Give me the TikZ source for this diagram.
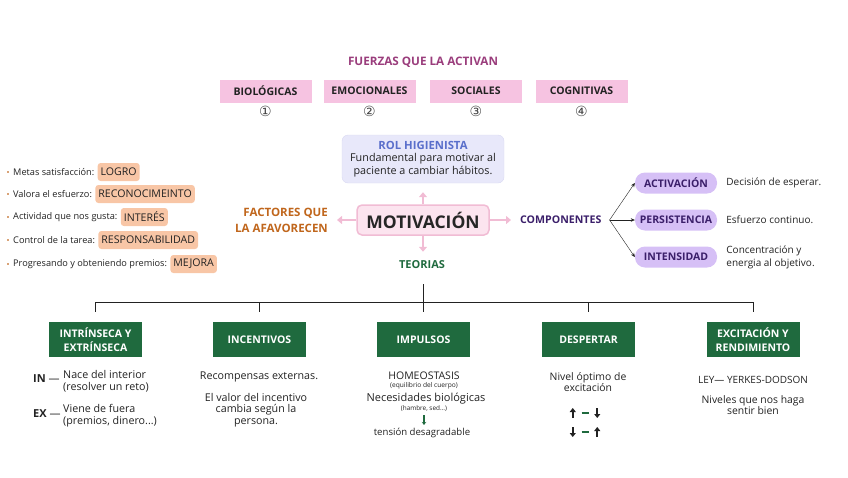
\documentclass[tikz,border=0pt]{standalone}
\usepackage{fontspec}
\setmainfont{Open Sans}
\newfontfamily\simbolos{DejaVu Sans}
\usetikzlibrary{arrows.meta,positioning}
\definecolor{fuerzatxt}{HTML}{9A3D7C}
\definecolor{rosa}{HTML}{F6C3E1}
\definecolor{lila}{HTML}{E8E8FA}
\definecolor{lilaborde}{HTML}{D9D9F2}
\definecolor{azulrol}{HTML}{5A6FCB}
\definecolor{rosamot}{HTML}{FCE4EF}
\definecolor{bordemot}{HTML}{F1BCD4}
\definecolor{naranja}{HTML}{C0661C}
\definecolor{melocoton}{HTML}{F8C6A6}
\definecolor{verde}{HTML}{1F6A3E}
\definecolor{morado}{HTML}{3B1F6A}
\definecolor{lavanda}{HTML}{D6C0F6}
\definecolor{texto}{HTML}{222222}
\definecolor{gris}{HTML}{444444}
\newcommand{\sube}{\tikz[baseline=-0.6ex]\draw[texto, line width=1.6pt, -{Triangle[length=4pt,width=6pt]}] (0,-5pt) -- (0,5pt);}
\newcommand{\baja}{\tikz[baseline=-0.6ex]\draw[texto, line width=1.6pt, -{Triangle[length=4pt,width=6pt]}] (0,5pt) -- (0,-5pt);}
\newcommand{\guion}{\tikz[baseline=-0.6ex]\draw[verde, line width=1.5pt] (0,0) -- (7pt,0);}
\begin{document}
\begin{tikzpicture}[x=1pt, y=-1pt, every node/.style={inner sep=0pt, text=texto},
    fuerza/.style={fill=rosa, minimum width=92pt, minimum height=23pt, font=\bfseries\fontsize{10.5}{12}\selectfont},
    factor/.style={fill=melocoton, rounded corners=3pt, inner xsep=3pt, minimum height=18pt, font=\fontsize{10.6}{12}\selectfont},
    item/.style={anchor=west, font=\fontsize{9.2}{11}\selectfont},
    componente/.style={fill=lavanda, rounded corners=10pt, minimum width=82pt, minimum height=21pt, text=morado, font=\bfseries\fontsize{10.5}{12}\selectfont},
    teoria/.style={fill=verde, text=white, minimum width=93pt, minimum height=35pt, align=center, font=\bfseries\fontsize{10.5}{14}\selectfont},
    cuerpo/.style={align=center, font=\fontsize{10.7}{11.5}\selectfont},
    flechamot/.style={draw=bordemot, line width=2.5pt, shorten >=9pt, -{Triangle[length=5pt,width=8pt]}}]
  \useasboundingbox (0,0) rectangle (848,477);

  % Fuerzas
  \node[text=fuerzatxt, font=\bfseries\fontsize{11.7}{13}\selectfont] (fuerzas) at (423,62) {FUERZAS QUE LA ACTIVAN};
  \foreach \x/\n/\t/\s in {265.5/bio/BIOLÓGICAS/①, 369.5/emo/EMOCIONALES/②, 476/soc/SOCIALES/③, 581.5/cog/COGNITIVAS/④} {
    \node[fuerza] (\n) at (\x,91) {\t};
    \node[font=\simbolos\fontsize{14}{14}\selectfont, text=gris, below=3pt of \n] (\n-num) {\s};
  }

  % Centro
  \node[fill=lila, draw=lilaborde, rounded corners=6pt, minimum width=162pt, minimum height=48pt, align=center, font=\fontsize{10.8}{12.5}\selectfont] (rol) at (423,159) {{\color{azulrol}\bfseries\fontsize{11.3}{12.5}\selectfont ROL HIGIENISTA}\\Fundamental para motivar al\\paciente a cambiar hábitos.};
  \node[fill=rosamot, draw=bordemot, line width=1.5pt, rounded corners=5pt, minimum width=132pt, minimum height=30pt, font=\bfseries\fontsize{17.5}{20}\selectfont, text=black!85] (mot) at (423,220) {MOTIVACIÓN};
  \node[text=naranja, font=\bfseries\fontsize{11.5}{16}\selectfont, align=right, anchor=east] (factores) at (328,220) {FACTORES QUE\\LA AFAVORECEN};
  \node[text=verde, font=\bfseries\fontsize{11}{12}\selectfont] (teorias) at (422,265) {TEORIAS};
  \node[text=morado, font=\bfseries\fontsize{10.6}{12}\selectfont, anchor=west] (componentes) at (520,220) {COMPONENTES};
  \draw[flechamot] (mot.north) -- (rol.south);
  \draw[flechamot] (mot.south) -- (mot.south |- teorias.north);
  \draw[flechamot] (mot.west) -- (factores.east);
  \draw[flechamot] (mot.east) -- (componentes.west);

  % Factores
  \foreach \y/\t/\f/\n in {172/Metas satisfacción:/LOGRO/f1, 194/Valora el esfuerzo:/RECONOCIMEINTO/f2, 217/Actividad que nos gusta:/INTERÉS/f3, 240/Control de la tarea:/RESPONSABILIDAD/f4, 264/Progresando y obteniendo premios:/MEJORA/f5} {
    \fill[naranja!60] (6.5,\y-1.3) rectangle ++(2.6,2.6);
    \node[item] (\n-txt) at (13,\y) {\t};
    \node[factor, right=3pt of \n-txt] (\n) {\f};
  }

  % Componentes
  \coordinate[right=8pt of componentes] (rama);
  \foreach \y/\n/\t/\d in {183/act/ACTIVACIÓN/Decisión de esperar., 220/per/PERSISTENCIA/Esfuerzo continuo., 257/int/INTENSIDAD/{Concentración y\\energia al objetivo.}} {
    \node[componente] (\n) at (676,\y) {\t};
    \draw[texto, -{Stealth[length=4pt,width=3.5pt]}] (rama) -- (\n.west);
    \node[align=left, font=\fontsize{10}{13}\selectfont, right=9pt of \n] (\n-d) {\d};
  }

  % Teorias
  \foreach \x/\n/\t in {95.5/t1/{INTRÍNSECA Y\\EXTRÍNSECA}, 259.5/t2/INCENTIVOS, 423.5/t3/IMPULSOS, 588.5/t4/DESPERTAR, 753/t5/{EXCITACIÓN Y\\RENDIMIENTO}}
    \node[teoria] (\n) at (\x,339.5) {\t};
  \draw[texto, line width=0.9pt] ([yshift=10pt]t1.north) -- ++(0,-9) -| ([yshift=10pt]t5.north);
  \foreach \n in {t2,t4} \draw[texto, line width=0.9pt] ([yshift=10pt]\n.north) -- ++(0,-9);
  \draw[texto, line width=0.9pt] ([yshift=10pt]t3.north) -- ++(0,-28);

  \node[anchor=west, font=\fontsize{11}{12}\selectfont] (in) at (33,379) {\textbf{IN} —};
  \node[anchor=west, align=left, font=\fontsize{10.7}{12}\selectfont] (in-d) at (63,381) {Nace del interior\\(resolver un reto)};
  \node[anchor=west, font=\fontsize{11}{12}\selectfont] (ex) at (33,414) {\textbf{EX} —};
  \node[anchor=west, align=left, font=\fontsize{10.7}{12}\selectfont] (ex-d) at (63,416) {Viene de fuera\\(premios, dinero...)};

  \node[cuerpo] (t2-a) at (259,377) {Recompensas externas.};
  \node[cuerpo] (t2-b) at (256,410) {El valor del incentivo\\cambia según la\\persona.};

  \node[font=\fontsize{10.5}{12}\selectfont] (homeo) at (424,376) {HOMEOSTASIS};
  \node[font=\fontsize{6.6}{7}\selectfont] (equil) at (424,385.5) {(equilibrio del cuerpo)};
  \node[font=\fontsize{11}{12}\selectfont] (necesidades) at (426,399) {Necesidades biológicas};
  \node[font=\fontsize{6.4}{7}\selectfont] (hambre) at (424,409) {(hambre, sed...)};
  \node[font=\fontsize{9.6}{11}\selectfont] (tension) at (422,433) {tensión desagradable};
  \draw[verde, line width=1.1pt, shorten <=3pt, shorten >=3pt, -{Stealth[length=3pt,width=4.5pt]}] (hambre.south) -- (hambre.south |- tension.north);

  \node[cuerpo, font=\fontsize{10.4}{11.5}\selectfont] (t4-a) at (588,382) {Nivel óptimo de\\excitación};
  \node (t4-b) at (585,413) {\sube\hspace{5pt}\guion\hspace{5pt}\baja};
  \node (t4-c) at (585,432) {\baja\hspace{5pt}\guion\hspace{5pt}\sube};

  \node[font=\fontsize{10}{12}\selectfont] (ley) at (753,380) {LEY— YERKES-DODSON};
  \node[cuerpo, font=\fontsize{10.4}{11.5}\selectfont] (t5-b) at (753,405) {Niveles que nos haga\\sentir bien};
\end{tikzpicture}
\end{document}
